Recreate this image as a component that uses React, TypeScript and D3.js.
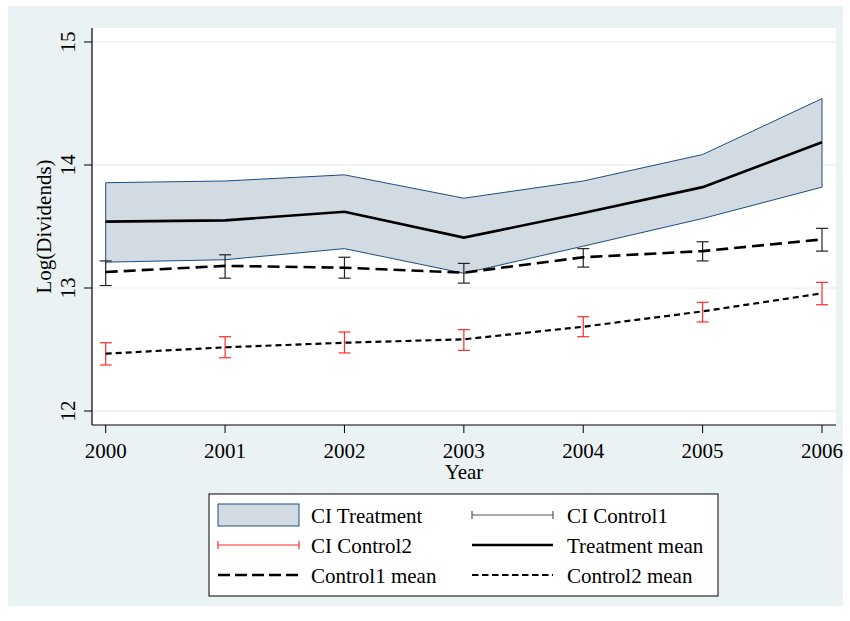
import React from "react";
import * as d3 from "d3";

// Panel data: years and estimates
const years = [2000, 2001, 2002, 2003, 2004, 2005, 2006];
const treatmentMean = [13.54, 13.55, 13.62, 13.41, 13.61, 13.82, 14.185];
const treatmentLo = [13.21, 13.23, 13.32, 13.12, 13.34, 13.565, 13.82];
const treatmentHi = [13.856, 13.87, 13.92, 13.73, 13.87, 14.085, 14.54];
const control1Mean = [13.13, 13.18, 13.165, 13.125, 13.25, 13.30, 13.395];
const control1Lo = [13.02, 13.08, 13.08, 13.04, 13.17, 13.22, 13.30];
const control1Hi = [13.22, 13.27, 13.25, 13.20, 13.32, 13.376, 13.485];
const control2Mean = [12.466, 12.518, 12.555, 12.583, 12.685, 12.81, 12.957];
const control2Lo = [12.374, 12.433, 12.472, 12.493, 12.604, 12.724, 12.864];
const control2Hi = [12.555, 12.604, 12.642, 12.661, 12.767, 12.884, 13.046];
const yTicks = [12, 13, 14, 15];

const FONT = "Liberation Serif, Times New Roman, Times, serif";
const FS = 21;
const BG = "#eaf2f3";
const BAND_FILL = "#d2dae2";
const BAND_STROKE = "#1a4f80";

export default function App() {
  const width = 850;
  const height = 621;
  const plot = { left: 92, right: 836, top: 28, bottom: 425 };

  const x = d3.scaleLinear().domain([2000, 2006]).range([105.7, 822]);
  const y = d3.scaleLinear().domain([12, 15]).range([411, 42]);

  const idx = years.map((_, i) => i);

  const area = d3
    .area<number>()
    .x((i) => x(years[i]))
    .y0((i) => y(treatmentLo[i]))
    .y1((i) => y(treatmentHi[i]));

  const lineOf = (vals: number[]) =>
    d3
      .line<number>()
      .x((i) => x(years[i]))
      .y((i) => y(vals[i]))(idx) as string;

  const capW = 6;

  const errorBars = (lo: number[], hi: number[], color: string, key: string) =>
    idx.map((i) => {
      const cx = x(years[i]);
      const y1 = y(lo[i]);
      const y2 = y(hi[i]);
      return (
        <g key={key + i} stroke={color} strokeWidth={1.2}>
          <line x1={cx} x2={cx} y1={y1} y2={y2} />
          <line x1={cx - capW} x2={cx + capW} y1={y1} y2={y1} />
          <line x1={cx - capW} x2={cx + capW} y1={y2} y2={y2} />
        </g>
      );
    });

  // Legend layout
  const leg = { x: 209, y: 494, w: 509, h: 102 };
  const rows = [515, 545, 575];
  const c1 = { kx0: 218, kx1: 299, tx: 311 };
  const c2 = { kx0: 472, kx1: 553, tx: 567 };
  const txtDy = 8;

  const label = (tx: number, ty: number, s: string) => (
    <text x={tx} y={ty + txtDy} fontFamily={FONT} fontSize={FS} fill="#000">
      {s}
    </text>
  );

  return (
    <svg width={width} height={height} style={{ display: "block", position: "absolute", left: 0, top: 0 }}>
      <rect x={8} y={6} width={835} height={600} fill={BG} />
      <rect x={plot.left} y={plot.top} width={plot.right - plot.left} height={plot.bottom - plot.top} fill="#ffffff" />

      {/* horizontal gridlines */}
      {yTicks.map((t) => (
        <line key={"g" + t} x1={plot.left} x2={plot.right} y1={y(t)} y2={y(t)} stroke={BG} strokeWidth={1.5} />
      ))}

      {/* treatment confidence band */}
      <path d={area(idx) as string} fill={BAND_FILL} stroke={BAND_STROKE} strokeWidth={1} />

      {errorBars(control1Lo, control1Hi, "#222222", "c1")}
      {errorBars(control2Lo, control2Hi, "#ff2a2a", "c2")}

      <path d={lineOf(treatmentMean)} fill="none" stroke="#000" strokeWidth={2.6} />
      <path d={lineOf(control1Mean)} fill="none" stroke="#000" strokeWidth={2.6} strokeDasharray="12 6" />
      <path d={lineOf(control2Mean)} fill="none" stroke="#000" strokeWidth={2.2} strokeDasharray="6 4" />

      {/* axes */}
      <line x1={plot.left} x2={plot.left} y1={plot.top} y2={plot.bottom} stroke="#000" strokeWidth={1.2} />
      <line x1={plot.left} x2={plot.right} y1={plot.bottom} y2={plot.bottom} stroke="#000" strokeWidth={1.2} />

      {yTicks.map((t) => (
        <g key={"yt" + t}>
          <line x1={plot.left - 8} x2={plot.left} y1={y(t)} y2={y(t)} stroke="#000" strokeWidth={1} />
          <text
            transform={`translate(75,${y(t)}) rotate(-90)`}
            textAnchor="middle"
            fontFamily={FONT}
            fontSize={FS}
            fill="#000"
          >
            {t}
          </text>
        </g>
      ))}
      <text
        transform={`translate(51,${(plot.top + plot.bottom) / 2}) rotate(-90)`}
        textAnchor="middle"
        fontFamily={FONT}
        fontSize={FS}
        fill="#000"
      >
        Log(Dividends)
      </text>

      {years.map((yr) => (
        <g key={"xt" + yr}>
          <line x1={x(yr)} x2={x(yr)} y1={plot.bottom} y2={plot.bottom + 8} stroke="#000" strokeWidth={1} />
          <text x={x(yr)} y={458} textAnchor="middle" fontFamily={FONT} fontSize={FS} fill="#000">
            {yr}
          </text>
        </g>
      ))}
      <text x={(plot.left + plot.right) / 2} y={479} textAnchor="middle" fontFamily={FONT} fontSize={FS} fill="#000">
        Year
      </text>

      {/* legend */}
      <rect x={leg.x} y={leg.y} width={leg.w} height={leg.h} fill="#ffffff" stroke="#000" strokeWidth={1} />

      <rect x={c1.kx0} y={rows[0] - 11} width={c1.kx1 - c1.kx0} height={22} fill={BAND_FILL} stroke={BAND_STROKE} strokeWidth={1} />
      {label(c1.tx, rows[0], "CI Treatment")}

      <g stroke="#555" strokeWidth={1.2}>
        <line x1={c2.kx0} x2={c2.kx1} y1={rows[0]} y2={rows[0]} />
        <line x1={c2.kx0} x2={c2.kx0} y1={rows[0] - 4} y2={rows[0] + 4} />
        <line x1={c2.kx1} x2={c2.kx1} y1={rows[0] - 4} y2={rows[0] + 4} />
      </g>
      {label(c2.tx, rows[0], "CI Control1")}

      <g stroke="#ff2a2a" strokeWidth={1.2}>
        <line x1={c1.kx0} x2={c1.kx1} y1={rows[1]} y2={rows[1]} />
        <line x1={c1.kx0} x2={c1.kx0} y1={rows[1] - 4} y2={rows[1] + 4} />
        <line x1={c1.kx1} x2={c1.kx1} y1={rows[1] - 4} y2={rows[1] + 4} />
      </g>
      {label(c1.tx, rows[1], "CI Control2")}

      <line x1={c2.kx0} x2={c2.kx1} y1={rows[1]} y2={rows[1]} stroke="#000" strokeWidth={2.6} />
      {label(c2.tx, rows[1], "Treatment mean")}

      <line x1={c1.kx0} x2={c1.kx1} y1={rows[2]} y2={rows[2]} stroke="#000" strokeWidth={2.6} strokeDasharray="12 5" />
      {label(c1.tx, rows[2], "Control1 mean")}

      <line x1={c2.kx0} x2={c2.kx1} y1={rows[2]} y2={rows[2]} stroke="#000" strokeWidth={2.2} strokeDasharray="6.5 3.5" />
      {label(c2.tx, rows[2], "Control2 mean")}
    </svg>
  );
}
